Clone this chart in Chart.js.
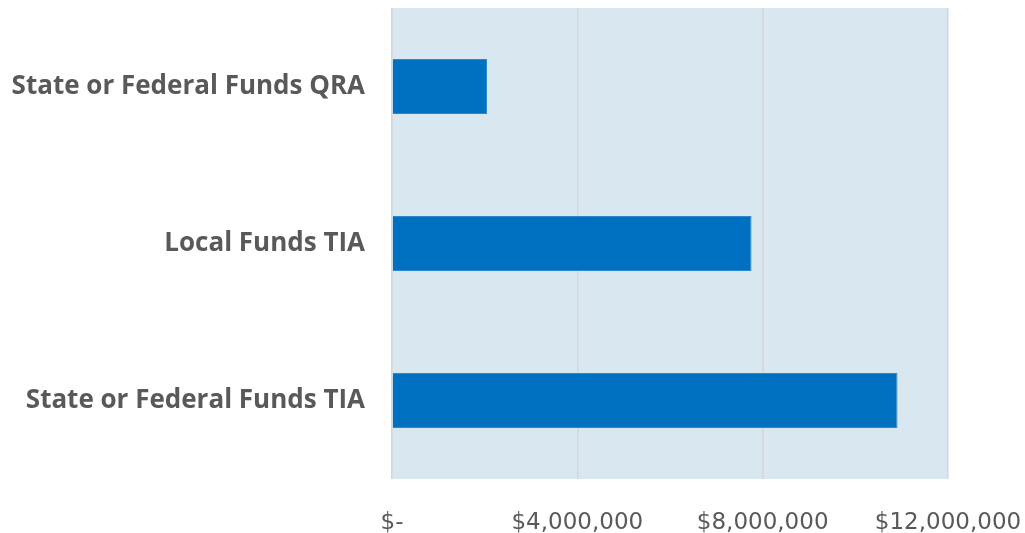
<!DOCTYPE html>
<html>
<head>
<meta charset="utf-8">
<script src="https://cdn.jsdelivr.net/npm/chart.js@4"></script>
<style>
  html, body { margin: 0; padding: 0; background: #fff; }
  #wrap { width: 1025px; height: 533px; }
</style>
</head>
<body>
<div id="wrap"><canvas id="bar-chart"></canvas></div>
<script>
// categories and values
const categories = ["State or Federal Funds QRA", "Local Funds TIA", "State or Federal Funds TIA"];
const amounts = [2050000, 7760000, 10910000];
const tickValues = [0, 4000000, 8000000, 12000000];

// plot area background
const plotBg = {
    id: 'plotBg',
    beforeDraw(chart) {
        const a = chart.chartArea;
        const ctx = chart.ctx;
        ctx.save();
        ctx.fillStyle = '#D8E7F0';
        ctx.fillRect(a.left, a.top, a.right - a.left, a.bottom - a.top);
        ctx.restore();
    }
};

function money(v) {
    if (v === 0) return '$-';
    return '$' + v.toLocaleString('en-US');
}

const CHART = document.getElementById('bar-chart');
let barChart = new Chart(CHART, {
    type: 'bar',
    data: {
        labels: categories,
        datasets: [{
            data: amounts,
            backgroundColor: '#0070C0',
            borderColor: '#2E86CC',
            borderWidth: 1,
            barPercentage: 0.35,
            categoryPercentage: 1
        }]
    },
    options: {
        indexAxis: 'y',
        responsive: true,
        maintainAspectRatio: false,
        animation: false,
        layout: { padding: { top: 8, right: 77, left: 0, bottom: 0 } },
        plugins: {
            legend: { display: false },
            tooltip: { enabled: false }
        },
        scales: {
            x: {
                min: 0,
                max: 12000000,
                afterBuildTicks(scale) {
                    scale.ticks = tickValues.map(v => ({ value: v }));
                },
                afterFit(scale) {
                    scale.height = 54;
                    scale.paddingLeft = 0;
                    scale.paddingRight = 0;
                },
                grid: { color: '#D6D6D6', lineWidth: 1.5, drawTicks: false },
                border: { display: false },
                ticks: {
                    padding: 30,
                    color: '#595959',
                    font: { family: 'DejaVu Sans', size: 23 },
                    maxRotation: 0,
                    callback: v => money(v)
                }
            },
            y: {
                afterFit(scale) {
                    scale.width = 392;
                    scale.paddingTop = 0;
                    scale.paddingBottom = 0;
                },
                grid: { display: false, drawTicks: false },
                border: { display: false },
                ticks: {
                    padding: 27,
                    color: '#595959',
                    font: { family: 'Open Sans', size: 26, weight: 'bold' }
                }
            }
        }
    },
    plugins: [plotBg]
});
</script>
</body>
</html>
